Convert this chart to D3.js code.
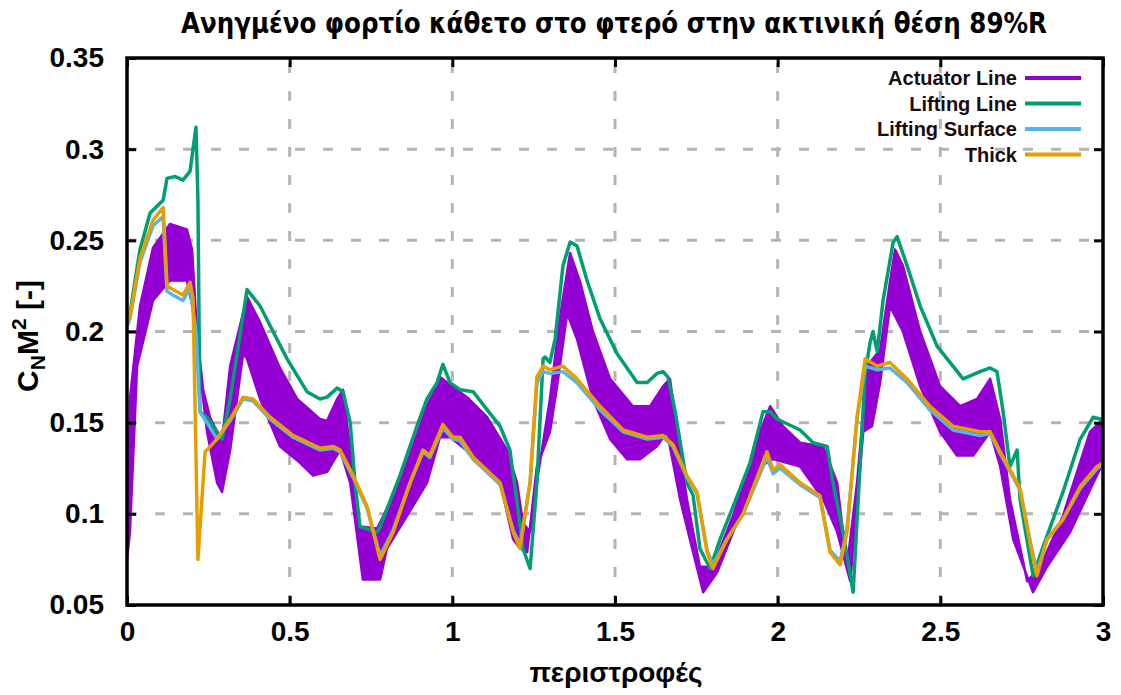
<!DOCTYPE html>
<html>
<head>
<meta charset="utf-8">
<script src="https://cdn.jsdelivr.net/npm/d3@7"></script>
<style>
  body { margin: 0; background: #fff; }
  svg { display: block; }
</style>
</head>
<body>
<svg width="1121" height="695"></svg>
<script>
"use strict";
// ---- data: [rotations, CN*M^2] ----
const seriesNames = ["Actuator Line", "Lifting Line", "Lifting Surface", "Thick"];
const seriesColors = ["#9400d3", "#009e73", "#56b4e9", "#e69f00"];
const xTicks = [0, 0.5, 1, 1.5, 2, 2.5, 3];
const xTickLabels = ["0", "0.5", "1", "1.5", "2", "2.5", "3"];
const yTicks = [0.05, 0.1, 0.15, 0.2, 0.25, 0.3, 0.35];
const yTickLabels = ["0.05", "0.1", "0.15", "0.2", "0.25", "0.3", "0.35"];

// actuator line oscillates fast, so it is drawn as a band between envelopes
const actuatorUpper = [[0,0.08],[0.009,0.163],[0.040,0.214],[0.080,0.246],[0.132,0.259],[0.184,0.256],[0.200,0.245],[0.215,0.200],[0.234,0.168],[0.255,0.153],[0.277,0.145],[0.292,0.140],[0.317,0.181],[0.369,0.219],[0.409,0.205],[0.470,0.180],[0.523,0.163],[0.593,0.152],[0.615,0.151],[0.646,0.163],[0.664,0.168],[0.686,0.135],[0.716,0.093],[0.769,0.092],[0.839,0.117],[0.922,0.159],[0.962,0.175],[0.984,0.172],[1.045,0.164],[1.107,0.153],[1.168,0.135],[1.199,0.117],[1.217,0.095],[1.239,0.090],[1.262,0.120],[1.300,0.163],[1.331,0.208],[1.362,0.243],[1.393,0.227],[1.432,0.200],[1.485,0.174],[1.555,0.159],[1.608,0.159],[1.648,0.170],[1.669,0.174],[1.691,0.145],[1.721,0.108],[1.761,0.071],[1.801,0.071],[1.863,0.099],[1.946,0.145],[1.977,0.159],[2.017,0.148],[2.069,0.139],[2.140,0.137],[2.183,0.117],[2.213,0.071],[2.244,0.117],[2.275,0.181],[2.315,0.190],[2.345,0.227],[2.361,0.245],[2.385,0.236],[2.438,0.200],[2.499,0.170],[2.561,0.159],[2.613,0.163],[2.653,0.174],[2.684,0.152],[2.714,0.108],[2.767,0.063],[2.807,0.071],[2.877,0.099],[2.960,0.145],[3.0,0.152]];
const actuatorLower = [[0,0.075],[0.009,0.090],[0.031,0.181],[0.080,0.217],[0.132,0.228],[0.184,0.228],[0.200,0.215],[0.246,0.145],[0.277,0.117],[0.292,0.112],[0.317,0.135],[0.357,0.188],[0.369,0.185],[0.409,0.163],[0.470,0.137],[0.532,0.128],[0.572,0.121],[0.615,0.123],[0.655,0.135],[0.686,0.117],[0.725,0.064],[0.778,0.064],[0.799,0.081],[0.861,0.099],[0.922,0.117],[0.962,0.142],[0.993,0.142],[1.064,0.132],[1.147,0.117],[1.187,0.086],[1.208,0.081],[1.230,0.079],[1.260,0.126],[1.279,0.135],[1.300,0.145],[1.322,0.170],[1.353,0.210],[1.383,0.196],[1.432,0.163],[1.485,0.141],[1.537,0.130],[1.577,0.130],[1.629,0.137],[1.660,0.145],[1.700,0.108],[1.740,0.079],[1.771,0.057],[1.814,0.068],[1.863,0.090],[1.946,0.126],[1.986,0.130],[2.069,0.126],[2.140,0.108],[2.183,0.090],[2.223,0.063],[2.263,0.145],[2.290,0.148],[2.315,0.172],[2.345,0.214],[2.385,0.200],[2.438,0.170],[2.499,0.145],[2.551,0.132],[2.601,0.132],[2.653,0.145],[2.684,0.126],[2.724,0.086],[2.785,0.057],[2.828,0.071],[2.899,0.090],[2.970,0.117],[3.0,0.128]];

const liftingLine = [[0,0.205],[0.009,0.210],[0.040,0.245],[0.071,0.265],[0.111,0.272],[0.123,0.284],[0.148,0.285],[0.172,0.283],[0.194,0.288],[0.212,0.312],[0.218,0.272],[0.224,0.156],[0.246,0.153],[0.277,0.145],[0.292,0.141],[0.317,0.163],[0.369,0.223],[0.409,0.214],[0.492,0.185],[0.553,0.167],[0.593,0.163],[0.615,0.164],[0.646,0.169],[0.664,0.167],[0.686,0.150],[0.701,0.117],[0.716,0.093],[0.769,0.090],[0.778,0.093],[0.839,0.121],[0.891,0.148],[0.922,0.163],[0.953,0.172],[0.971,0.182],[0.993,0.172],[1.024,0.168],[1.064,0.167],[1.094,0.160],[1.147,0.148],[1.177,0.135],[1.199,0.106],[1.217,0.081],[1.239,0.070],[1.260,0.117],[1.279,0.185],[1.285,0.186],[1.300,0.183],[1.316,0.196],[1.340,0.236],[1.362,0.249],[1.383,0.247],[1.414,0.228],[1.454,0.207],[1.506,0.188],[1.568,0.172],[1.599,0.172],[1.629,0.177],[1.648,0.178],[1.663,0.175],[1.685,0.156],[1.721,0.117],[1.740,0.110],[1.761,0.081],[1.792,0.070],[1.823,0.086],[1.863,0.104],[1.915,0.128],[1.955,0.156],[1.977,0.156],[1.998,0.152],[2.069,0.146],[2.109,0.139],[2.152,0.137],[2.170,0.117],[2.201,0.090],[2.232,0.057],[2.253,0.126],[2.269,0.177],[2.284,0.194],[2.293,0.200],[2.306,0.189],[2.324,0.217],[2.355,0.249],[2.367,0.252],[2.398,0.236],[2.438,0.214],[2.490,0.192],[2.570,0.174],[2.622,0.178],[2.653,0.180],[2.674,0.178],[2.693,0.156],[2.714,0.126],[2.736,0.135],[2.745,0.108],[2.785,0.066],[2.816,0.082],[2.877,0.112],[2.930,0.141],[2.970,0.153],[2.991,0.152],[3.0,0.150]];

const liftingSurface = [[0,0.203],[0.009,0.207],[0.040,0.238],[0.080,0.258],[0.111,0.263],[0.123,0.222],[0.141,0.220],[0.172,0.217],[0.194,0.224],[0.212,0.200],[0.224,0.156],[0.246,0.150],[0.277,0.141],[0.317,0.151],[0.357,0.163],[0.387,0.162],[0.440,0.152],[0.510,0.142],[0.593,0.135],[0.633,0.136],[0.655,0.134],[0.695,0.120],[0.738,0.103],[0.778,0.077],[0.818,0.091],[0.870,0.117],[0.910,0.134],[0.931,0.131],[0.971,0.147],[1.002,0.141],[1.024,0.140],[1.064,0.130],[1.147,0.116],[1.187,0.091],[1.208,0.083],[1.239,0.117],[1.260,0.172],[1.279,0.178],[1.300,0.177],[1.340,0.178],[1.383,0.172],[1.454,0.157],[1.525,0.145],[1.599,0.141],[1.648,0.142],[1.678,0.137],[1.721,0.120],[1.752,0.111],[1.783,0.080],[1.801,0.072],[1.844,0.086],[1.894,0.100],[1.967,0.131],[1.986,0.122],[2.007,0.125],[2.069,0.116],[2.130,0.109],[2.161,0.080],[2.192,0.074],[2.213,0.091],[2.244,0.152],[2.269,0.181],[2.306,0.179],[2.345,0.180],[2.398,0.172],[2.468,0.157],[2.539,0.146],[2.622,0.143],[2.653,0.144],[2.684,0.133],[2.724,0.120],[2.745,0.113],[2.776,0.085],[2.797,0.068],[2.828,0.086],[2.877,0.097],[2.930,0.114],[2.982,0.125],[3.0,0.127]];

const thick = [[0,0.205],[0.009,0.208],[0.040,0.240],[0.080,0.261],[0.111,0.268],[0.123,0.225],[0.141,0.223],[0.172,0.220],[0.194,0.227],[0.203,0.218],[0.218,0.075],[0.240,0.134],[0.277,0.141],[0.317,0.152],[0.357,0.164],[0.387,0.163],[0.440,0.153],[0.510,0.143],[0.593,0.136],[0.633,0.137],[0.655,0.135],[0.695,0.121],[0.738,0.104],[0.778,0.075],[0.818,0.090],[0.870,0.117],[0.910,0.135],[0.931,0.132],[0.971,0.149],[1.002,0.142],[1.024,0.142],[1.064,0.131],[1.147,0.117],[1.187,0.090],[1.208,0.081],[1.239,0.117],[1.260,0.175],[1.279,0.181],[1.300,0.179],[1.340,0.181],[1.383,0.174],[1.454,0.159],[1.525,0.146],[1.599,0.142],[1.648,0.143],[1.678,0.138],[1.721,0.121],[1.752,0.112],[1.783,0.079],[1.801,0.070],[1.844,0.086],[1.894,0.100],[1.967,0.134],[1.986,0.124],[2.007,0.127],[2.069,0.117],[2.130,0.110],[2.161,0.079],[2.192,0.072],[2.213,0.090],[2.244,0.153],[2.269,0.185],[2.306,0.181],[2.345,0.183],[2.398,0.174],[2.468,0.159],[2.539,0.148],[2.622,0.145],[2.653,0.145],[2.684,0.134],[2.724,0.121],[2.745,0.114],[2.776,0.084],[2.797,0.066],[2.828,0.086],[2.877,0.097],[2.930,0.115],[2.982,0.126],[3.0,0.128]];

// ---- layout ----
const svg = d3.select("svg");
const plot = {left: 127, right: 1103, top: 58, bottom: 605};
const x = d3.scaleLinear().domain([0, 3]).range([plot.left, plot.right]);
const y = d3.scaleLinear().domain([0.05, 0.35]).range([plot.bottom, plot.top]);
const sansBold = "'Liberation Sans', Arial, sans-serif";
const narrow = "'Liberation Sans Narrow', 'DejaVu Sans Condensed', sans-serif";

// grid
const grid = svg.append("g").attr("class", "grid")
    .attr("stroke", "#b4b4b4")
    .attr("stroke-width", 3)
    .attr("stroke-dasharray", "10,18");
grid.selectAll("line.v")
    .data(xTicks.slice(1, -1))
    .enter().append("line")
    .attr("class", "v")
    .attr("x1", d => x(d)).attr("x2", d => x(d))
    .attr("y1", plot.bottom).attr("y2", plot.top);
grid.selectAll("line.h")
    .data(yTicks.slice(1, -1))
    .enter().append("line")
    .attr("class", "h")
    .attr("y1", d => y(d)).attr("y2", d => y(d))
    .attr("x1", plot.left).attr("x2", plot.right);

// clip so the curves stay inside the frame
svg.append("clipPath").attr("id", "clip")
    .append("rect")
    .attr("x", plot.left).attr("y", plot.top)
    .attr("width", plot.right - plot.left)
    .attr("height", plot.bottom - plot.top);

const line = d3.line()
    .x(d => x(d[0]))
    .y(d => y(d[1]));

const curves = svg.append("g").attr("clip-path", "url(#clip)");

// actuator band: upper envelope forward, lower envelope back
curves.append("path")
    .attr("d", line(actuatorUpper.concat(actuatorLower.slice().reverse())) + "Z")
    .attr("fill", seriesColors[0])
    .attr("stroke", seriesColors[0])
    .attr("stroke-width", 2.5)
    .attr("stroke-linejoin", "round");

[liftingLine, liftingSurface, thick].forEach((data, i) => {
    curves.append("path")
        .datum(data)
        .attr("d", line)
        .attr("fill", "none")
        .attr("stroke", seriesColors[i + 1])
        .attr("stroke-width", 3.5)
        .attr("stroke-linejoin", "round");
});

// axes with inward, mirrored ticks
const tickLen = 9;
const axisBottom = svg.append("g")
    .attr("transform", `translate(0,${plot.bottom})`)
    .call(d3.axisBottom(x).tickValues(xTicks).tickSize(-tickLen).tickPadding(tickLen + 21)
        .tickFormat((d, i) => xTickLabels[i]));
const axisTop = svg.append("g")
    .attr("transform", `translate(0,${plot.top})`)
    .call(d3.axisTop(x).tickValues(xTicks).tickSize(-tickLen).tickFormat(""));
const axisLeft = svg.append("g")
    .attr("transform", `translate(${plot.left},0)`)
    .call(d3.axisLeft(y).tickValues(yTicks).tickSize(-tickLen).tickPadding(tickLen + 14)
        .tickFormat((d, i) => yTickLabels[i]));
const axisRight = svg.append("g")
    .attr("transform", `translate(${plot.right},0)`)
    .call(d3.axisRight(y).tickValues(yTicks).tickSize(-tickLen).tickFormat(""));

[axisBottom, axisTop, axisLeft, axisRight].forEach(g => {
    g.select(".domain").remove();
    g.selectAll(".tick line").attr("stroke", "#000").attr("stroke-width", 3);
    g.selectAll("text")
        .attr("fill", "#000")
        .style("font-family", sansBold)
        .style("font-weight", "bold")
        .style("font-size", "28px");
});
axisBottom.selectAll("text").attr("dy", "0.2em");

// frame
svg.append("rect")
    .attr("x", plot.left).attr("y", plot.top)
    .attr("width", plot.right - plot.left)
    .attr("height", plot.bottom - plot.top)
    .attr("fill", "none")
    .attr("stroke", "#000")
    .attr("stroke-width", 3.5);

// legend
const legend = svg.append("g").attr("class", "legend");
const legendRows = legend.selectAll("g")
    .data(seriesNames)
    .enter().append("g")
    .attr("transform", (d, i) => `translate(1017,${78 + i * 25.5})`);
legendRows.append("text")
    .attr("text-anchor", "end")
    .attr("dy", "0.35em")
    .style("font-family", sansBold)
    .style("font-weight", "bold")
    .style("font-size", "20px")
    .attr("fill", "#1a0a10")
    .text(d => d);
legendRows.append("line")
    .attr("x1", 8).attr("x2", 64)
    .attr("stroke", (d, i) => seriesColors[i])
    .attr("stroke-width", 4);

// titles
svg.append("text")
    .attr("x", 614).attr("y", 33)
    .attr("text-anchor", "middle")
    .style("font-family", narrow)
    .style("font-weight", "bold")
    .style("font-size", "28px")
    .attr("textLength", 866)
    .attr("lengthAdjust", "spacingAndGlyphs")
    .text("Ανηγμένο φορτίο κάθετο στο φτερό στην ακτινική θέση 89%R");

svg.append("text")
    .attr("x", 616).attr("y", 682)
    .attr("text-anchor", "middle")
    .style("font-family", sansBold)
    .style("font-weight", "bold")
    .style("font-size", "28px")
    .text("περιστροφές");

const yTitle = svg.append("text")
    .attr("transform", "translate(38,336) rotate(-90)")
    .attr("text-anchor", "middle")
    .style("font-family", sansBold)
    .style("font-weight", "bold")
    .style("font-size", "30px");
yTitle.append("tspan").text("C");
yTitle.append("tspan").attr("dy", 7).style("font-size", "21px").text("N");
yTitle.append("tspan").attr("dy", -7).text("M");
yTitle.append("tspan").attr("dy", -12).style("font-size", "21px").text("2");
yTitle.append("tspan").attr("dy", 12).text(" [-]");
</script>
</body>
</html>
